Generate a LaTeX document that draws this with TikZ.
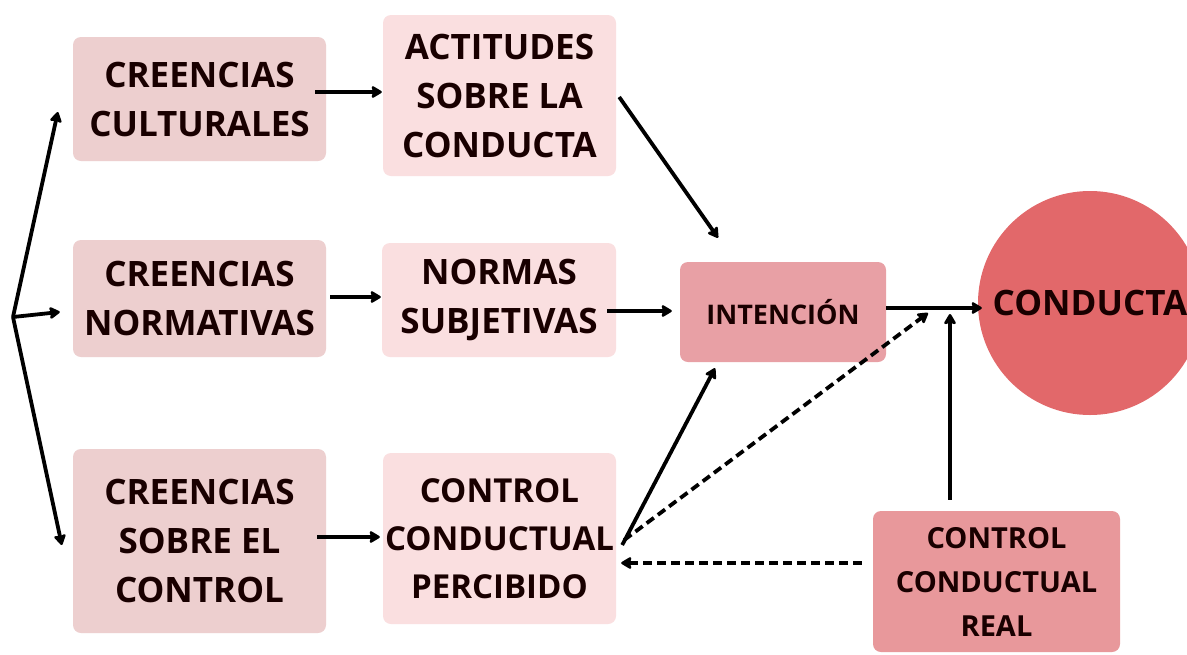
\documentclass[tikz,border=0pt]{standalone}
\usepackage{fontspec}
\setmainfont{Open Sans}
\usetikzlibrary{arrows.meta}
\definecolor{boxdark}{HTML}{EDCFCF}
\definecolor{boxlight}{HTML}{FADFE0}
\definecolor{intcol}{HTML}{E8A0A5}
\definecolor{realcol}{HTML}{E8989B}
\definecolor{circcol}{HTML}{E2686A}
\tikzset{
  box/.style={rectangle, rounded corners=8pt, align=center, inner sep=0pt,
    font=\fontsize{35}{49}\selectfont\bfseries, text=black!90!red},
  arr/.style={line width=3.8pt, -{Stealth[length=12pt,width=14pt,inset=2pt,round]}},
  darr/.style={arr, dash pattern=on 9pt off 5pt},
}
\begin{document}
\begin{tikzpicture}[x=1pt,y=-1pt]
\useasboundingbox (0,0) rectangle (1187,654);
\fill[white] (0,0) rectangle (1187,654);
% nodes
\node[box, fill=boxdark, minimum width=253pt, minimum height=124pt] (cc) at (199.5,99) {CREENCIAS\\CULTURALES};
\node[box, fill=boxlight, minimum width=233pt, minimum height=161pt] (asc) at (499.5,95.5) {ACTITUDES\\SOBRE LA\\CONDUCTA};
\node[box, fill=boxdark, minimum width=253pt, minimum height=117pt] (cn) at (199.5,298.5) {CREENCIAS\\NORMATIVAS};
\node[box, fill=boxlight, minimum width=234pt, minimum height=114pt] (ns) at (499,300) {NORMAS\\SUBJETIVAS};
\node[box, fill=intcol, minimum width=206pt, minimum height=100pt, font=\fontsize{27}{32}\selectfont\bfseries] (int) at (783,312) {INTENCIÓN};
\node[circle, fill=circcol, minimum size=224pt, inner sep=0pt, font=\fontsize{35}{40}\selectfont\bfseries, text=black!90!red] (cond) at (1090,303) {CONDUCTA};
\node[box, fill=boxdark, minimum width=253pt, minimum height=184pt] (csc) at (199.5,541) {CREENCIAS\\SOBRE EL\\CONTROL};
\node[box, fill=boxlight, minimum width=233pt, minimum height=171pt, font=\fontsize{33}{48}\selectfont\bfseries] (ccp) at (499.5,538.5) {CONTROL\\CONDUCTUAL\\PERCIBIDO};
\node[box, fill=realcol, minimum width=247pt, minimum height=141pt, font=\fontsize{29}{44}\selectfont\bfseries] (ccr) at (996.5,581.5) {CONTROL\\CONDUCTUAL\\REAL};
% coordinates
\coordinate (fork) at (13,317);
\coordinate (meet) at (950,314);
% connectors
\draw[arr] (fork) -- ([shift={(-15,13)}]cc.west);
\draw[arr] (fork) -- ([shift={(-13,13.5)}]cn.west);
\draw[arr] (fork) -- ([shift={(-11,4)}]csc.west);
\draw[arr] ([shift={(-11,-7)}]cc.east) -- ([shift={(-1,-3.5)}]asc.west);
\draw[arr] ([shift={(4,-1.5)}]cn.east) -- ([shift={(-1,-3)}]ns.west);
\draw[arr] ([shift={(-9,-4)}]csc.east) -- ([shift={(-3,-1.5)}]ccp.west);
\draw[arr] ([shift={(3,1.5)}]asc.east) -- ([shift={(-65,-24)}]int.north);
\draw[arr] ([shift={(-9,11)}]ns.east) -- ([shift={(-8,-1)}]int.west);
\draw[arr] ([shift={(6,6.5)}]ccp.east) -- ([shift={(-68,6)}]int.south);
\draw[darr] ([shift={(8,1.5)}]ccp.east) -- ([shift={(-22,-1)}]meet);
\draw[arr] ([shift={(0,-4)}]int.east) -- ([shift={(4,5)}]cond.west);
\draw[arr] ([shift={(-46.5,-11)}]ccr.north) -- (meet);
\draw[darr] ([shift={(-11,-18.5)}]ccr.west) -- ([shift={(5,24.5)}]ccp.east);
\end{tikzpicture}
\end{document}
